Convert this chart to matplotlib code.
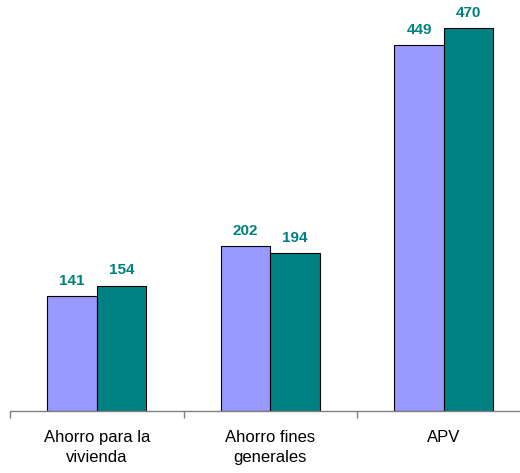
import numpy as np
from matplotlib import pyplot as plt

# Data
categories = ["Ahorro para la\nvivienda", "Ahorro fines\ngenerales", "APV"]
serie_a    = [141, 202, 449]
serie_b    = [154, 194, 470]

COLOR_A   = "#9999FF"
COLOR_B   = "#008080"
BAR_WIDTH = 0.285

plt.rcParams['font.family'] = ['Liberation Sans', 'DejaVu Sans']

fig = plt.figure( figsize=(5.2, 4.73), dpi=100 )
ax  = fig.add_axes( [10/520, 62/473, 520.5/520, 411/473] )

x = np.arange( len(categories) )
bars_a = ax.bar( x - BAR_WIDTH/2, serie_a, BAR_WIDTH, color=COLOR_A, edgecolor="black", linewidth=0.8 )
bars_b = ax.bar( x + BAR_WIDTH/2, serie_b, BAR_WIDTH, color=COLOR_B, edgecolor="black", linewidth=0.8 )

# Value labels
for bars in ( bars_a, bars_b ):
    for b in bars:
        ax.annotate( "{:d}".format( int(b.get_height()) ),
                     ( b.get_x() + b.get_width()/2, b.get_height() ),
                     xytext=(0, 8), textcoords="offset points",
                     ha="center", va="baseline", color=COLOR_B,
                     fontsize=11, fontweight="bold" )

ax.set_xlim( -0.5, len(categories) - 0.5 )
ax.set_ylim( 0, 504.4 )

for side in ( "left", "right", "top" ):
    ax.spines[side].set_visible( False )
ax.spines["bottom"].set_color( "#808080" )
ax.spines["bottom"].set_linewidth( 1.0 )

ax.set_yticks( [] )
ax.set_xticks( np.arange( len(categories) + 1 ) - 0.5 )
ax.set_xticklabels( [] )
ax.tick_params( axis="x", which="major", length=5, color="#808080", width=1.0 )
ax.set_xticks( x, minor=True )
ax.set_xticklabels( categories, minor=True, fontsize=12, linespacing=1.35 )
ax.tick_params( axis="x", which="minor", length=0, pad=14 )

fig.savefig( "out.png", dpi=100 )
